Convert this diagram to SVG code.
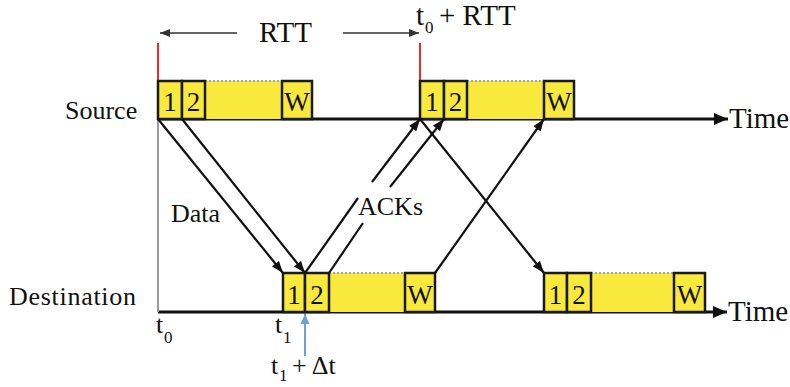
<svg xmlns="http://www.w3.org/2000/svg" width="790" height="387" viewBox="0 0 790 387">
<style>
.t{font-family:"Liberation Serif","Times New Roman",serif;fill:#111}
.lbl{font-size:26px}
.big{font-size:29px}
.sm{font-size:26px}
.sub{font-size:17px}
.num{font-size:27px;text-anchor:middle}
.box{fill:#f9e93c;stroke:#1a1a1a;stroke-width:2.5}
.fill{fill:#f9e93c}
.dot{stroke:#8a8aa0;stroke-width:1.5;stroke-dasharray:2 2;fill:none}
.conn{stroke:#111;stroke-width:2.2;fill:none}
.axis{stroke:#111;stroke-width:3;fill:none}
.red{stroke:#ee2a2a;stroke-width:2;fill:none}
.rtt{stroke:#333;stroke-width:1.5;fill:none}
</style>
<defs>
<marker id="ah" markerUnits="userSpaceOnUse" markerWidth="12" markerHeight="10" refX="12" refY="5" orient="auto"><path d="M0,0.5 L12,5 L0,9.5 z" fill="#111"/></marker>
<marker id="big" markerUnits="userSpaceOnUse" markerWidth="14" markerHeight="12" refX="14" refY="6" orient="auto"><path d="M0,0 L14,6 L0,12 z" fill="#111"/></marker>
<marker id="thin" markerUnits="userSpaceOnUse" markerWidth="10" markerHeight="8" refX="10" refY="4" orient="auto"><path d="M0,0 L10,4 L0,8 z" fill="#333"/></marker>
<marker id="blue" markerUnits="userSpaceOnUse" markerWidth="10" markerHeight="10" refX="10" refY="5" orient="auto"><path d="M0,0.5 L10,5 L0,9.5 z" fill="#6f9fd6"/></marker>
</defs>

<g id="labels" font-family="Liberation Serif, Times New Roman, serif">
<text class="t lbl" x="65" y="119">Source</text>
<text class="t lbl" x="9" y="305" textLength="127">Destination</text>
<text class="t big" x="729" y="128">Time</text>
<text class="t big" x="728" y="321">Time</text>
<text class="t big" x="259" y="42">RTT</text>
<text class="t big" x="416" y="25">t</text>
<text class="t sub" x="425" y="33">0</text>
<text class="t big" x="439" y="25">+ RTT</text>
<text class="t sm" x="171" y="222">Data</text>
<text class="t sm" x="358" y="215">ACKs</text>
<text class="t sm" x="156" y="333">t</text>
<text class="t sub" x="164" y="343">0</text>
<text class="t sm" x="275" y="333">t</text>
<text class="t sub" x="283" y="343">1</text>
<text class="t sm" x="271" y="374">t</text>
<text class="t sub" x="279" y="381" font-size="15">1</text>
<text class="t sm" x="292" y="374">+ Δt</text>
</g>

<g id="axes">
<line class="axis" x1="158" y1="119" x2="728" y2="119" marker-end="url(#big)"/>
<line class="axis" x1="158" y1="312" x2="727" y2="312" marker-end="url(#big)"/>
<line x1="158" y1="119" x2="158" y2="312" stroke="#9a9a9a" stroke-width="2"/>
<line class="red" x1="158" y1="43" x2="158" y2="81"/>
<line class="red" x1="420" y1="43" x2="420" y2="81"/>
<line class="rtt" x1="237" y1="33" x2="160" y2="33" marker-end="url(#thin)"/>
<line class="rtt" x1="343" y1="33" x2="419" y2="33" marker-end="url(#thin)"/>
<line x1="305" y1="356" x2="305" y2="314" stroke="#6f9fd6" stroke-width="2" marker-end="url(#blue)"/>
</g>

<g id="source-window-1" font-family="Liberation Serif, Times New Roman, serif">
<rect class="fill" x="205" y="81" width="77" height="38"/>
<line class="dot" x1="205" y1="81" x2="282" y2="81"/>
<rect class="box" x="158" y="81" width="24" height="38"/>
<rect class="box" x="182" y="81" width="23" height="38"/>
<rect class="box" x="282" y="81" width="30" height="38"/>
<text class="t num" x="170" y="111">1</text>
<text class="t num" x="193.5" y="111">2</text>
<text class="t num" x="297" y="111">W</text>
</g>

<g id="source-window-2" font-family="Liberation Serif, Times New Roman, serif">
<rect class="fill" x="467" y="81" width="77" height="38"/>
<line class="dot" x1="467" y1="81" x2="544" y2="81"/>
<rect class="box" x="420" y="81" width="24" height="38"/>
<rect class="box" x="444" y="81" width="23" height="38"/>
<rect class="box" x="544" y="81" width="30" height="38"/>
<text class="t num" x="432" y="111">1</text>
<text class="t num" x="455.5" y="111">2</text>
<text class="t num" x="559" y="111">W</text>
</g>

<g id="dest-window-1" font-family="Liberation Serif, Times New Roman, serif">
<rect class="fill" x="329" y="273" width="76" height="39"/>
<line class="dot" x1="329" y1="273" x2="405" y2="273"/>
<rect class="box" x="283" y="273" width="22" height="39"/>
<rect class="box" x="305" y="273" width="24" height="39"/>
<rect class="box" x="405" y="273" width="30" height="39"/>
<text class="t num" x="294" y="304">1</text>
<text class="t num" x="317" y="304">2</text>
<text class="t num" x="420" y="304">W</text>
</g>

<g id="dest-window-2" font-family="Liberation Serif, Times New Roman, serif">
<rect class="fill" x="591" y="273" width="83" height="39"/>
<line class="dot" x1="591" y1="273" x2="674" y2="273"/>
<rect class="box" x="544" y="273" width="23" height="39"/>
<rect class="box" x="567" y="273" width="24" height="39"/>
<rect class="box" x="674" y="273" width="31" height="39"/>
<text class="t num" x="555.5" y="304">1</text>
<text class="t num" x="579" y="304">2</text>
<text class="t num" x="689.5" y="304">W</text>
</g>

<g id="connectors">
<line class="conn" x1="158" y1="119" x2="283" y2="273" marker-end="url(#ah)"/>
<line class="conn" x1="182" y1="119" x2="305" y2="273" marker-end="url(#ah)"/>
<line class="conn" x1="305" y1="273" x2="358" y2="198"/>
<line class="conn" x1="372" y1="182" x2="420" y2="119" marker-end="url(#ah)"/>
<line class="conn" x1="329" y1="273" x2="363" y2="223"/>
<line class="conn" x1="390" y1="187" x2="444" y2="119" marker-end="url(#ah)"/>
<line class="conn" x1="435" y1="273" x2="544" y2="119" marker-end="url(#ah)"/>
<line class="conn" x1="420" y1="119" x2="544" y2="273" marker-end="url(#ah)"/>
</g>
</svg>
